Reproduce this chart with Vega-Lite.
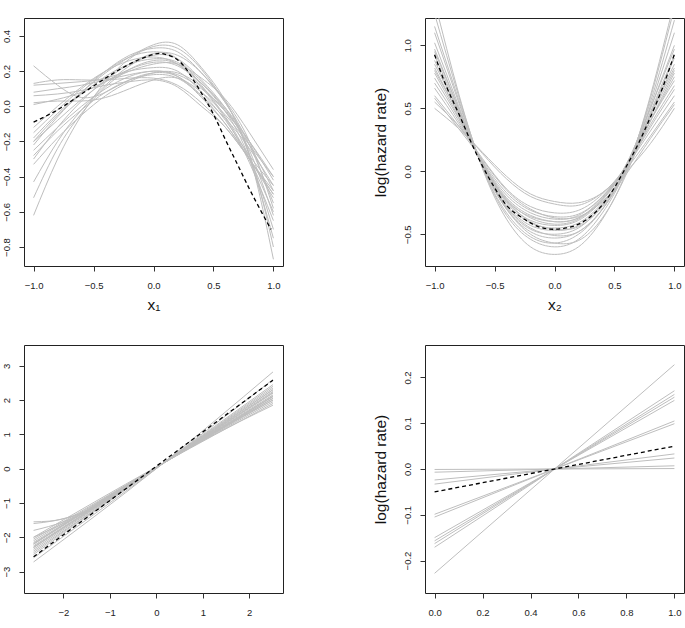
{
"$schema": "https://vega.github.io/schema/vega-lite/v6.json",
"background": "white",
"padding": {"left": 0, "top": 17, "right": 0, "bottom": 0},
"config": {
  "view": {"stroke": "#222", "strokeWidth": 1},
  "axis": {"domain": false, "grid": false, "tickSize": 5, "tickColor": "#333", "labelFont": "Liberation Sans", "labelFontSize": 9.5, "labelColor": "#222", "titleFont": "Liberation Sans", "titleFontSize": 15.5, "titleFontWeight": "normal", "titleColor": "#111"},
  "axisX": {"labelPadding": 9, "titlePadding": 8},
  "axisY": {"labelAngle": -90, "labelAlign": "center", "labelBaseline": "bottom", "labelPadding": 8, "minExtent": 23, "maxExtent": 23, "titlePadding": 14}
},
"datasets": {
"p1g": [
{"c":1,"x":-1,"y":0.23},{"c":1,"x":-0.8,"y":0.12},{"c":1,"x":-0.6,"y":0.05},{"c":1,"x":-0.4,"y":0.08},{"c":1,"x":-0.2,"y":0.15},{"c":1,"x":0,"y":0.19},{"c":1,"x":0.2,"y":0.17},{"c":1,"x":0.4,"y":0.06},{"c":1,"x":0.6,"y":-0.1},{"c":1,"x":0.8,"y":-0.3},{"c":1,"x":1,"y":-0.5},
{"c":2,"x":-1,"y":0.13},{"c":2,"x":-0.8,"y":0.15},{"c":2,"x":-0.6,"y":0.15},{"c":2,"x":-0.4,"y":0.15},{"c":2,"x":-0.2,"y":0.16},{"c":2,"x":0,"y":0.16},{"c":2,"x":0.2,"y":0.12},{"c":2,"x":0.4,"y":0.02},{"c":2,"x":0.6,"y":-0.12},{"c":2,"x":0.8,"y":-0.3},{"c":2,"x":1,"y":-0.5},
{"c":3,"x":-1,"y":0.12},{"c":3,"x":-0.8,"y":0.13},{"c":3,"x":-0.6,"y":0.14},{"c":3,"x":-0.4,"y":0.16},{"c":3,"x":-0.2,"y":0.2},{"c":3,"x":0,"y":0.22},{"c":3,"x":0.2,"y":0.2},{"c":3,"x":0.4,"y":0.08},{"c":3,"x":0.6,"y":-0.08},{"c":3,"x":0.8,"y":-0.28},{"c":3,"x":1,"y":-0.45},
{"c":4,"x":-1,"y":0.08},{"c":4,"x":-0.8,"y":0.1},{"c":4,"x":-0.6,"y":0.12},{"c":4,"x":-0.4,"y":0.15},{"c":4,"x":-0.2,"y":0.18},{"c":4,"x":0,"y":0.2},{"c":4,"x":0.2,"y":0.17},{"c":4,"x":0.4,"y":0.05},{"c":4,"x":0.6,"y":-0.1},{"c":4,"x":0.8,"y":-0.3},{"c":4,"x":1,"y":-0.52},
{"c":5,"x":-1,"y":0.06},{"c":5,"x":-0.8,"y":0.07},{"c":5,"x":-0.6,"y":0.09},{"c":5,"x":-0.4,"y":0.12},{"c":5,"x":-0.2,"y":0.14},{"c":5,"x":0,"y":0.15},{"c":5,"x":0.2,"y":0.11},{"c":5,"x":0.4,"y":0.0},{"c":5,"x":0.6,"y":-0.12},{"c":5,"x":0.8,"y":-0.3},{"c":5,"x":1,"y":-0.48},
{"c":6,"x":-1,"y":0.02},{"c":6,"x":-0.8,"y":0.03},{"c":6,"x":-0.6,"y":0.03},{"c":6,"x":-0.4,"y":0.05},{"c":6,"x":-0.2,"y":0.1},{"c":6,"x":0,"y":0.15},{"c":6,"x":0.2,"y":0.16},{"c":6,"x":0.4,"y":0.08},{"c":6,"x":0.6,"y":-0.05},{"c":6,"x":0.8,"y":-0.22},{"c":6,"x":1,"y":-0.4},
{"c":7,"x":-1,"y":0.01},{"c":7,"x":-0.8,"y":0.04},{"c":7,"x":-0.6,"y":0.08},{"c":7,"x":-0.4,"y":0.14},{"c":7,"x":-0.2,"y":0.2},{"c":7,"x":0,"y":0.24},{"c":7,"x":0.2,"y":0.24},{"c":7,"x":0.4,"y":0.16},{"c":7,"x":0.6,"y":0.04},{"c":7,"x":0.8,"y":-0.15},{"c":7,"x":1,"y":-0.36},
{"c":8,"x":-1,"y":-0.15},{"c":8,"x":-0.8,"y":-0.02},{"c":8,"x":-0.6,"y":0.1},{"c":8,"x":-0.4,"y":0.2},{"c":8,"x":-0.2,"y":0.28},{"c":8,"x":0,"y":0.31},{"c":8,"x":0.2,"y":0.27},{"c":8,"x":0.4,"y":0.12},{"c":8,"x":0.6,"y":-0.06},{"c":8,"x":0.8,"y":-0.3},{"c":8,"x":1,"y":-0.6},
{"c":9,"x":-1,"y":-0.2},{"c":9,"x":-0.8,"y":-0.08},{"c":9,"x":-0.6,"y":0.04},{"c":9,"x":-0.4,"y":0.14},{"c":9,"x":-0.2,"y":0.21},{"c":9,"x":0,"y":0.25},{"c":9,"x":0.2,"y":0.23},{"c":9,"x":0.4,"y":0.13},{"c":9,"x":0.6,"y":-0.01},{"c":9,"x":0.8,"y":-0.2},{"c":9,"x":1,"y":-0.42},
{"c":10,"x":-1,"y":-0.22},{"c":10,"x":-0.8,"y":-0.06},{"c":10,"x":-0.6,"y":0.08},{"c":10,"x":-0.4,"y":0.2},{"c":10,"x":-0.2,"y":0.29},{"c":10,"x":0,"y":0.33},{"c":10,"x":0.2,"y":0.31},{"c":10,"x":0.4,"y":0.19},{"c":10,"x":0.6,"y":0.02},{"c":10,"x":0.8,"y":-0.22},{"c":10,"x":1,"y":-0.55},
{"c":11,"x":-1,"y":-0.25},{"c":11,"x":-0.8,"y":-0.12},{"c":11,"x":-0.6,"y":0},{"c":11,"x":-0.4,"y":0.1},{"c":11,"x":-0.2,"y":0.17},{"c":11,"x":0,"y":0.2},{"c":11,"x":0.2,"y":0.18},{"c":11,"x":0.4,"y":0.1},{"c":11,"x":0.6,"y":-0.03},{"c":11,"x":0.8,"y":-0.2},{"c":11,"x":1,"y":-0.4},
{"c":12,"x":-1,"y":-0.3},{"c":12,"x":-0.8,"y":-0.12},{"c":12,"x":-0.6,"y":0.03},{"c":12,"x":-0.4,"y":0.15},{"c":12,"x":-0.2,"y":0.24},{"c":12,"x":0,"y":0.3},{"c":12,"x":0.2,"y":0.29},{"c":12,"x":0.4,"y":0.19},{"c":12,"x":0.6,"y":0.03},{"c":12,"x":0.8,"y":-0.2},{"c":12,"x":1,"y":-0.58},
{"c":13,"x":-1,"y":-0.33},{"c":13,"x":-0.8,"y":-0.18},{"c":13,"x":-0.6,"y":-0.05},{"c":13,"x":-0.4,"y":0.06},{"c":13,"x":-0.2,"y":0.14},{"c":13,"x":0,"y":0.19},{"c":13,"x":0.2,"y":0.19},{"c":13,"x":0.4,"y":0.11},{"c":13,"x":0.6,"y":-0.03},{"c":13,"x":0.8,"y":-0.22},{"c":13,"x":1,"y":-0.48},
{"c":14,"x":-1,"y":-0.43},{"c":14,"x":-0.8,"y":-0.2},{"c":14,"x":-0.6,"y":-0.02},{"c":14,"x":-0.4,"y":0.12},{"c":14,"x":-0.2,"y":0.23},{"c":14,"x":0,"y":0.29},{"c":14,"x":0.2,"y":0.27},{"c":14,"x":0.4,"y":0.15},{"c":14,"x":0.6,"y":-0.01},{"c":14,"x":0.8,"y":-0.25},{"c":14,"x":1,"y":-0.62},
{"c":15,"x":-1,"y":-0.52},{"c":15,"x":-0.8,"y":-0.24},{"c":15,"x":-0.6,"y":-0.04},{"c":15,"x":-0.4,"y":0.11},{"c":15,"x":-0.2,"y":0.21},{"c":15,"x":0,"y":0.26},{"c":15,"x":0.2,"y":0.24},{"c":15,"x":0.4,"y":0.13},{"c":15,"x":0.6,"y":-0.03},{"c":15,"x":0.8,"y":-0.3},{"c":15,"x":1,"y":-0.75},
{"c":16,"x":-1,"y":-0.62},{"c":16,"x":-0.8,"y":-0.3},{"c":16,"x":-0.6,"y":-0.05},{"c":16,"x":-0.4,"y":0.14},{"c":16,"x":-0.2,"y":0.27},{"c":16,"x":0,"y":0.34},{"c":16,"x":0.2,"y":0.33},{"c":16,"x":0.4,"y":0.21},{"c":16,"x":0.6,"y":0.02},{"c":16,"x":0.8,"y":-0.28},{"c":16,"x":1,"y":-0.87},
{"c":17,"x":-1,"y":-0.18},{"c":17,"x":-0.8,"y":-0.04},{"c":17,"x":-0.6,"y":0.08},{"c":17,"x":-0.4,"y":0.19},{"c":17,"x":-0.2,"y":0.28},{"c":17,"x":0,"y":0.35},{"c":17,"x":0.2,"y":0.35},{"c":17,"x":0.4,"y":0.22},{"c":17,"x":0.6,"y":0.03},{"c":17,"x":0.8,"y":-0.28},{"c":17,"x":1,"y":-0.7},
{"c":18,"x":-1,"y":-0.28},{"c":18,"x":-0.8,"y":-0.14},{"c":18,"x":-0.6,"y":-0.02},{"c":18,"x":-0.4,"y":0.08},{"c":18,"x":-0.2,"y":0.15},{"c":18,"x":0,"y":0.18},{"c":18,"x":0.2,"y":0.16},{"c":18,"x":0.4,"y":0.06},{"c":18,"x":0.6,"y":-0.07},{"c":18,"x":0.8,"y":-0.24},{"c":18,"x":1,"y":-0.45},
{"c":19,"x":-1,"y":-0.12},{"c":19,"x":-0.8,"y":0},{"c":19,"x":-0.6,"y":0.11},{"c":19,"x":-0.4,"y":0.2},{"c":19,"x":-0.2,"y":0.26},{"c":19,"x":0,"y":0.28},{"c":19,"x":0.2,"y":0.24},{"c":19,"x":0.4,"y":0.11},{"c":19,"x":0.6,"y":-0.07},{"c":19,"x":0.8,"y":-0.32},{"c":19,"x":1,"y":-0.65},
{"c":20,"x":-1,"y":-0.2},{"c":20,"x":-0.8,"y":-0.05},{"c":20,"x":-0.6,"y":0.07},{"c":20,"x":-0.4,"y":0.17},{"c":20,"x":-0.2,"y":0.24},{"c":20,"x":0,"y":0.27},{"c":20,"x":0.2,"y":0.25},{"c":20,"x":0.4,"y":0.14},{"c":20,"x":0.6,"y":-0.02},{"c":20,"x":0.8,"y":-0.27},{"c":20,"x":1,"y":-0.8}
],
"p1t": [
{"x":-1,"y":-0.09},{"x":-0.8,"y":-0.02},{"x":-0.6,"y":0.07},{"x":-0.4,"y":0.16},{"x":-0.2,"y":0.24},{"x":0,"y":0.295},{"x":0.1,"y":0.295},{"x":0.2,"y":0.265},{"x":0.3,"y":0.185},{"x":0.4,"y":0.075},{"x":0.5,"y":-0.045},{"x":0.6,"y":-0.19},{"x":0.7,"y":-0.33},{"x":0.8,"y":-0.47},{"x":0.9,"y":-0.6},{"x":0.98,"y":-0.7}
],
"p2g": [
{"c":1,"x":-1,"y":1.35},{"c":1,"x":-0.8,"y":0.62},{"c":1,"x":-0.6,"y":0.02},{"c":1,"x":-0.4,"y":-0.38},{"c":1,"x":-0.2,"y":-0.6},{"c":1,"x":0,"y":-0.66},{"c":1,"x":0.2,"y":-0.6},{"c":1,"x":0.4,"y":-0.38},{"c":1,"x":0.6,"y":0.0},{"c":1,"x":0.8,"y":0.6},{"c":1,"x":1,"y":1.35},
{"c":2,"x":-1,"y":1.25},{"c":2,"x":-0.8,"y":0.6},{"c":2,"x":-0.6,"y":0.03},{"c":2,"x":-0.4,"y":-0.35},{"c":2,"x":-0.2,"y":-0.54},{"c":2,"x":0,"y":-0.6},{"c":2,"x":0.2,"y":-0.54},{"c":2,"x":0.4,"y":-0.33},{"c":2,"x":0.6,"y":0.02},{"c":2,"x":0.8,"y":0.58},{"c":2,"x":1,"y":1.3},
{"c":3,"x":-1,"y":1.1},{"c":3,"x":-0.8,"y":0.55},{"c":3,"x":-0.6,"y":0.04},{"c":3,"x":-0.4,"y":-0.3},{"c":3,"x":-0.2,"y":-0.48},{"c":3,"x":0,"y":-0.53},{"c":3,"x":0.2,"y":-0.48},{"c":3,"x":0.4,"y":-0.3},{"c":3,"x":0.6,"y":0.02},{"c":3,"x":0.8,"y":0.52},{"c":3,"x":1,"y":1.1},
{"c":4,"x":-1,"y":1.02},{"c":4,"x":-0.8,"y":0.52},{"c":4,"x":-0.6,"y":0.04},{"c":4,"x":-0.4,"y":-0.29},{"c":4,"x":-0.2,"y":-0.46},{"c":4,"x":0,"y":-0.5},{"c":4,"x":0.2,"y":-0.45},{"c":4,"x":0.4,"y":-0.27},{"c":4,"x":0.6,"y":0.03},{"c":4,"x":0.8,"y":0.5},{"c":4,"x":1,"y":1.0},
{"c":5,"x":-1,"y":0.95},{"c":5,"x":-0.8,"y":0.5},{"c":5,"x":-0.6,"y":0.05},{"c":5,"x":-0.4,"y":-0.27},{"c":5,"x":-0.2,"y":-0.43},{"c":5,"x":0,"y":-0.47},{"c":5,"x":0.2,"y":-0.43},{"c":5,"x":0.4,"y":-0.26},{"c":5,"x":0.6,"y":0.03},{"c":5,"x":0.8,"y":0.47},{"c":5,"x":1,"y":0.92},
{"c":6,"x":-1,"y":0.88},{"c":6,"x":-0.8,"y":0.47},{"c":6,"x":-0.6,"y":0.05},{"c":6,"x":-0.4,"y":-0.25},{"c":6,"x":-0.2,"y":-0.41},{"c":6,"x":0,"y":-0.45},{"c":6,"x":0.2,"y":-0.41},{"c":6,"x":0.4,"y":-0.25},{"c":6,"x":0.6,"y":0.03},{"c":6,"x":0.8,"y":0.45},{"c":6,"x":1,"y":0.85},
{"c":7,"x":-1,"y":0.82},{"c":7,"x":-0.8,"y":0.45},{"c":7,"x":-0.6,"y":0.06},{"c":7,"x":-0.4,"y":-0.24},{"c":7,"x":-0.2,"y":-0.39},{"c":7,"x":0,"y":-0.43},{"c":7,"x":0.2,"y":-0.39},{"c":7,"x":0.4,"y":-0.23},{"c":7,"x":0.6,"y":0.04},{"c":7,"x":0.8,"y":0.43},{"c":7,"x":1,"y":0.8},
{"c":8,"x":-1,"y":0.78},{"c":8,"x":-0.8,"y":0.43},{"c":8,"x":-0.6,"y":0.06},{"c":8,"x":-0.4,"y":-0.22},{"c":8,"x":-0.2,"y":-0.37},{"c":8,"x":0,"y":-0.42},{"c":8,"x":0.2,"y":-0.38},{"c":8,"x":0.4,"y":-0.22},{"c":8,"x":0.6,"y":0.04},{"c":8,"x":0.8,"y":0.4},{"c":8,"x":1,"y":0.75},
{"c":9,"x":-1,"y":0.74},{"c":9,"x":-0.8,"y":0.42},{"c":9,"x":-0.6,"y":0.07},{"c":9,"x":-0.4,"y":-0.21},{"c":9,"x":-0.2,"y":-0.35},{"c":9,"x":0,"y":-0.4},{"c":9,"x":0.2,"y":-0.37},{"c":9,"x":0.4,"y":-0.21},{"c":9,"x":0.6,"y":0.05},{"c":9,"x":0.8,"y":0.4},{"c":9,"x":1,"y":0.72},
{"c":10,"x":-1,"y":0.7},{"c":10,"x":-0.8,"y":0.4},{"c":10,"x":-0.6,"y":0.07},{"c":10,"x":-0.4,"y":-0.19},{"c":10,"x":-0.2,"y":-0.33},{"c":10,"x":0,"y":-0.38},{"c":10,"x":0.2,"y":-0.35},{"c":10,"x":0.4,"y":-0.2},{"c":10,"x":0.6,"y":0.04},{"c":10,"x":0.8,"y":0.37},{"c":10,"x":1,"y":0.68},
{"c":11,"x":-1,"y":0.66},{"c":11,"x":-0.8,"y":0.38},{"c":11,"x":-0.6,"y":0.08},{"c":11,"x":-0.4,"y":-0.17},{"c":11,"x":-0.2,"y":-0.31},{"c":11,"x":0,"y":-0.36},{"c":11,"x":0.2,"y":-0.34},{"c":11,"x":0.4,"y":-0.2},{"c":11,"x":0.6,"y":0.04},{"c":11,"x":0.8,"y":0.35},{"c":11,"x":1,"y":0.65},
{"c":12,"x":-1,"y":0.6},{"c":12,"x":-0.8,"y":0.36},{"c":12,"x":-0.6,"y":0.1},{"c":12,"x":-0.4,"y":-0.14},{"c":12,"x":-0.2,"y":-0.28},{"c":12,"x":0,"y":-0.33},{"c":12,"x":0.2,"y":-0.31},{"c":12,"x":0.4,"y":-0.18},{"c":12,"x":0.6,"y":0.04},{"c":12,"x":0.8,"y":0.32},{"c":12,"x":1,"y":0.6},
{"c":13,"x":-1,"y":0.55},{"c":13,"x":-0.8,"y":0.36},{"c":13,"x":-0.6,"y":0.14},{"c":13,"x":-0.4,"y":-0.06},{"c":13,"x":-0.2,"y":-0.2},{"c":13,"x":0,"y":-0.26},{"c":13,"x":0.2,"y":-0.27},{"c":13,"x":0.4,"y":-0.17},{"c":13,"x":0.6,"y":0.02},{"c":13,"x":0.8,"y":0.28},{"c":13,"x":1,"y":0.55},
{"c":14,"x":-1,"y":0.5},{"c":14,"x":-0.8,"y":0.34},{"c":14,"x":-0.6,"y":0.15},{"c":14,"x":-0.4,"y":-0.04},{"c":14,"x":-0.2,"y":-0.18},{"c":14,"x":0,"y":-0.24},{"c":14,"x":0.2,"y":-0.25},{"c":14,"x":0.4,"y":-0.17},{"c":14,"x":0.6,"y":0.0},{"c":14,"x":0.8,"y":0.22},{"c":14,"x":1,"y":0.5},
{"c":15,"x":-1,"y":1.15},{"c":15,"x":-0.8,"y":0.57},{"c":15,"x":-0.6,"y":0.03},{"c":15,"x":-0.4,"y":-0.33},{"c":15,"x":-0.2,"y":-0.52},{"c":15,"x":0,"y":-0.57},{"c":15,"x":0.2,"y":-0.5},{"c":15,"x":0.4,"y":-0.3},{"c":15,"x":0.6,"y":0.04},{"c":15,"x":0.8,"y":0.55},{"c":15,"x":1,"y":1.2},
{"c":16,"x":-1,"y":0.92},{"c":16,"x":-0.8,"y":0.48},{"c":16,"x":-0.6,"y":0.04},{"c":16,"x":-0.4,"y":-0.28},{"c":16,"x":-0.2,"y":-0.45},{"c":16,"x":0,"y":-0.51},{"c":16,"x":0.2,"y":-0.48},{"c":16,"x":0.4,"y":-0.3},{"c":16,"x":0.6,"y":0.02},{"c":16,"x":0.8,"y":0.45},{"c":16,"x":1,"y":0.82},
{"c":17,"x":-1,"y":0.85},{"c":17,"x":-0.8,"y":0.47},{"c":17,"x":-0.6,"y":0.06},{"c":17,"x":-0.4,"y":-0.23},{"c":17,"x":-0.2,"y":-0.36},{"c":17,"x":0,"y":-0.4},{"c":17,"x":0.2,"y":-0.37},{"c":17,"x":0.4,"y":-0.22},{"c":17,"x":0.6,"y":0.06},{"c":17,"x":0.8,"y":0.5},{"c":17,"x":1,"y":0.97},
{"c":18,"x":-1,"y":0.58},{"c":18,"x":-0.8,"y":0.34},{"c":18,"x":-0.6,"y":0.09},{"c":18,"x":-0.4,"y":-0.15},{"c":18,"x":-0.2,"y":-0.3},{"c":18,"x":0,"y":-0.37},{"c":18,"x":0.2,"y":-0.36},{"c":18,"x":0.4,"y":-0.24},{"c":18,"x":0.6,"y":-0.02},{"c":18,"x":0.8,"y":0.26},{"c":18,"x":1,"y":0.53},
{"c":19,"x":-1,"y":0.97},{"c":19,"x":-0.8,"y":0.5},{"c":19,"x":-0.6,"y":0.04},{"c":19,"x":-0.4,"y":-0.3},{"c":19,"x":-0.2,"y":-0.5},{"c":19,"x":0,"y":-0.57},{"c":19,"x":0.2,"y":-0.55},{"c":19,"x":0.4,"y":-0.37},{"c":19,"x":0.6,"y":-0.02},{"c":19,"x":0.8,"y":0.45},{"c":19,"x":1,"y":0.9},
{"c":20,"x":-1,"y":0.8},{"c":20,"x":-0.8,"y":0.45},{"c":20,"x":-0.6,"y":0.06},{"c":20,"x":-0.4,"y":-0.23},{"c":20,"x":-0.2,"y":-0.4},{"c":20,"x":0,"y":-0.46},{"c":20,"x":0.2,"y":-0.44},{"c":20,"x":0.4,"y":-0.28},{"c":20,"x":0.6,"y":0.0},{"c":20,"x":0.8,"y":0.4},{"c":20,"x":1,"y":0.78}
],
"p2t": [
{"x":-1,"y":0.925},{"x":-0.9,"y":0.67},{"x":-0.8,"y":0.46},{"x":-0.7,"y":0.24},{"x":-0.6,"y":0.04},{"x":-0.5,"y":-0.13},{"x":-0.4,"y":-0.27},{"x":-0.3,"y":-0.35},{"x":-0.2,"y":-0.41},{"x":-0.1,"y":-0.45},{"x":0,"y":-0.46},{"x":0.1,"y":-0.45},{"x":0.2,"y":-0.42},{"x":0.3,"y":-0.36},{"x":0.4,"y":-0.265},{"x":0.5,"y":-0.13},{"x":0.6,"y":0.04},{"x":0.7,"y":0.22},{"x":0.8,"y":0.43},{"x":0.9,"y":0.66},{"x":1,"y":0.93}
],
"p3g": [
{"c":1,"x":-2.64,"y":-2.72},{"c":1,"x":0,"y":0.0},{"c":1,"x":2.51,"y":2.82},
{"c":2,"x":-2.64,"y":-2.6},{"c":2,"x":0,"y":0.0},{"c":2,"x":2.51,"y":2.6},
{"c":3,"x":-2.64,"y":-2.5},{"c":3,"x":0,"y":0.02},{"c":3,"x":2.51,"y":2.45},
{"c":4,"x":-2.64,"y":-2.4},{"c":4,"x":0,"y":0.02},{"c":4,"x":2.51,"y":2.4},
{"c":5,"x":-2.64,"y":-2.35},{"c":5,"x":0,"y":0.03},{"c":5,"x":2.51,"y":2.35},
{"c":6,"x":-2.64,"y":-2.3},{"c":6,"x":0,"y":0.02},{"c":6,"x":2.51,"y":2.3},
{"c":7,"x":-2.64,"y":-2.28},{"c":7,"x":0,"y":0.03},{"c":7,"x":2.51,"y":2.25},
{"c":8,"x":-2.64,"y":-2.25},{"c":8,"x":0,"y":0.03},{"c":8,"x":2.51,"y":2.22},
{"c":9,"x":-2.64,"y":-2.2},{"c":9,"x":0,"y":0.03},{"c":9,"x":2.51,"y":2.2},
{"c":10,"x":-2.64,"y":-2.18},{"c":10,"x":0,"y":0.04},{"c":10,"x":2.51,"y":2.15},
{"c":11,"x":-2.64,"y":-2.15},{"c":11,"x":0,"y":0.03},{"c":11,"x":2.51,"y":2.12},
{"c":12,"x":-2.64,"y":-2.1},{"c":12,"x":0,"y":0.04},{"c":12,"x":2.51,"y":2.1},
{"c":13,"x":-2.64,"y":-2.05},{"c":13,"x":0,"y":0.04},{"c":13,"x":2.51,"y":2.05},
{"c":14,"x":-2.64,"y":-2.3},{"c":14,"x":0,"y":0.03},{"c":14,"x":2.51,"y":2.0},
{"c":15,"x":-2.64,"y":-2.2},{"c":15,"x":0,"y":0.04},{"c":15,"x":2.51,"y":1.95},
{"c":16,"x":-2.64,"y":-2.0},{"c":16,"x":0,"y":0.05},{"c":16,"x":2.51,"y":1.9},
{"c":17,"x":-2.64,"y":-1.55},{"c":17,"x":-2.3,"y":-1.53},{"c":17,"x":-1.8,"y":-1.38},{"c":17,"x":-1.3,"y":-1.1},{"c":17,"x":-0.8,"y":-0.7},{"c":17,"x":0,"y":0.03},{"c":17,"x":2.51,"y":2.0},
{"c":18,"x":-2.64,"y":-1.6},{"c":18,"x":-2.2,"y":-1.52},{"c":18,"x":-1.6,"y":-1.3},{"c":18,"x":-1.0,"y":-0.87},{"c":18,"x":0,"y":0.03},{"c":18,"x":2.51,"y":1.85},
{"c":19,"x":-2.64,"y":-1.8},{"c":19,"x":-2.0,"y":-1.55},{"c":19,"x":-1.3,"y":-1.1},{"c":19,"x":-0.8,"y":-0.68},{"c":19,"x":0,"y":0.03},{"c":19,"x":2.51,"y":2.05},
{"c":20,"x":-2.64,"y":-2.0},{"c":20,"x":-1.5,"y":-1.25},{"c":20,"x":0,"y":0.03},{"c":20,"x":2.51,"y":2.1},
{"c":21,"x":-2.64,"y":-2.45},{"c":21,"x":0,"y":0.02},{"c":21,"x":2.51,"y":2.3}
],
"p3t": [
{"x":-2.64,"y":-2.57},{"x":2.51,"y":2.58}
],
"p4g": [
{"c":1,"x":0,"y":-0.228},{"c":1,"x":1,"y":0.228},
{"c":2,"x":0,"y":-0.171},{"c":2,"x":1,"y":0.171},
{"c":3,"x":0,"y":-0.163},{"c":3,"x":1,"y":0.163},
{"c":4,"x":0,"y":-0.157},{"c":4,"x":1,"y":0.157},
{"c":5,"x":0,"y":-0.15},{"c":5,"x":1,"y":0.15},
{"c":6,"x":0,"y":-0.105},{"c":6,"x":1,"y":0.105},
{"c":7,"x":0,"y":-0.099},{"c":7,"x":1,"y":0.099},
{"c":8,"x":0,"y":-0.033},{"c":8,"x":1,"y":0.033},
{"c":9,"x":0,"y":-0.024},{"c":9,"x":1,"y":0.024},
{"c":10,"x":0,"y":-0.007},{"c":10,"x":1,"y":0.007},
{"c":11,"x":0,"y":-0.001},{"c":11,"x":1,"y":0.001}
],
"p4t": [
{"x":0,"y":-0.05},{"x":1,"y":0.05}
]
},
"spacing": 30,
"vconcat": [
{"hconcat": [
{"width": 259, "height": 248, "layer": [
 {"data": {"name": "p1g"}, "mark": {"type": "line", "color": "#bebebe", "strokeWidth": 1, "interpolate": "natural", "clip": true},
  "encoding": {
   "x": {"field": "x", "type": "quantitative", "scale": {"domain": [-1.08, 1.08], "nice": false, "zero": false}, "axis": {"values": [-1, -0.5, 0, 0.5, 1], "format": ".1f", "title": "x₁"}},
   "y": {"field": "y", "type": "quantitative", "scale": {"domain": [-0.908, 0.502], "nice": false, "zero": false}, "axis": {"values": [-0.8, -0.6, -0.4, -0.2, 0, 0.2, 0.4], "format": ".1f", "title": null}},
   "detail": {"field": "c", "type": "nominal"}}},
 {"data": {"name": "p1t"}, "mark": {"type": "line", "color": "#000", "strokeWidth": 1.3, "strokeDash": [4, 3], "interpolate": "natural", "clip": true},
  "encoding": {"x": {"field": "x", "type": "quantitative"}, "y": {"field": "y", "type": "quantitative"}}}
]},
{"width": 259, "height": 248, "layer": [
 {"data": {"name": "p2g"}, "mark": {"type": "line", "color": "#bebebe", "strokeWidth": 1, "interpolate": "natural", "clip": true},
  "encoding": {
   "x": {"field": "x", "type": "quantitative", "scale": {"domain": [-1.08, 1.08], "nice": false, "zero": false}, "axis": {"values": [-1, -0.5, 0, 0.5, 1], "format": ".1f", "title": "x₂"}},
   "y": {"field": "y", "type": "quantitative", "scale": {"domain": [-0.752, 1.217], "nice": false, "zero": false}, "axis": {"values": [-0.5, 0, 0.5, 1], "format": ".1f", "title": "log(hazard rate)"}},
   "detail": {"field": "c", "type": "nominal"}}},
 {"data": {"name": "p2t"}, "mark": {"type": "line", "color": "#000", "strokeWidth": 1.3, "strokeDash": [4, 3], "interpolate": "natural", "clip": true},
  "encoding": {"x": {"field": "x", "type": "quantitative"}, "y": {"field": "y", "type": "quantitative"}}}
]}
], "spacing": 88},
{"hconcat": [
{"width": 259, "height": 248, "layer": [
 {"data": {"name": "p3g"}, "mark": {"type": "line", "color": "#bebebe", "strokeWidth": 1, "interpolate": "monotone", "clip": true},
  "encoding": {
   "x": {"field": "x", "type": "quantitative", "scale": {"domain": [-2.846, 2.726], "nice": false, "zero": false}, "axis": {"values": [-2, -1, 0, 1, 2], "format": "d", "title": null}},
   "y": {"field": "y", "type": "quantitative", "scale": {"domain": [-3.625, 3.605], "nice": false, "zero": false}, "axis": {"values": [-3, -2, -1, 0, 1, 2, 3], "format": "d", "title": null}},
   "detail": {"field": "c", "type": "nominal"}}},
 {"data": {"name": "p3t"}, "mark": {"type": "line", "color": "#000", "strokeWidth": 1.3, "strokeDash": [4, 3], "clip": true},
  "encoding": {"x": {"field": "x", "type": "quantitative"}, "y": {"field": "y", "type": "quantitative"}}}
]},
{"width": 259, "height": 248, "layer": [
 {"data": {"name": "p4g"}, "mark": {"type": "line", "color": "#bebebe", "strokeWidth": 1, "clip": true},
  "encoding": {
   "x": {"field": "x", "type": "quantitative", "scale": {"domain": [-0.04, 1.04], "nice": false, "zero": false}, "axis": {"values": [0, 0.2, 0.4, 0.6, 0.8, 1], "format": ".1f", "title": null}},
   "y": {"field": "y", "type": "quantitative", "scale": {"domain": [-0.271, 0.271], "nice": false, "zero": false}, "axis": {"values": [-0.2, -0.1, 0, 0.1, 0.2], "format": ".1f", "title": "log(hazard rate)"}},
   "detail": {"field": "c", "type": "nominal"}}},
 {"data": {"name": "p4t"}, "mark": {"type": "line", "color": "#000", "strokeWidth": 1.3, "strokeDash": [4, 3], "clip": true},
  "encoding": {"x": {"field": "x", "type": "quantitative"}, "y": {"field": "y", "type": "quantitative"}}}
]}
], "spacing": 88}
]
}
